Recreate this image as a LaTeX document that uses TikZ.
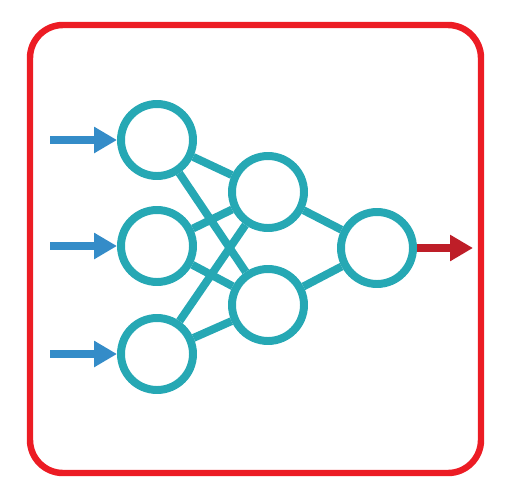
\documentclass[tikz,border=0pt]{standalone}
\usepackage{tikz}
\usetikzlibrary{arrows.meta}

\definecolor{teal}{RGB}{38,168,180}
\definecolor{inblue}{RGB}{52,140,200}
\definecolor{outred}{RGB}{190,30,40}
\definecolor{framered}{RGB}{236,28,36}

\begin{document}
\begin{tikzpicture}[x=0.03cm,y=-0.03cm,
                    neuron/.style={circle,draw=teal,line width=6.8pt,minimum size=2.16cm,inner sep=0pt},
                    link/.style={draw=teal,line width=6.8pt},
                    signal/.style={line width=6.8pt,-{Triangle[length=0.69cm,width=0.75cm]}}]
  \useasboundingbox (0,0) rectangle (507,499);
  \draw[framered,line width=5.5pt,rounded corners=0.99cm] (30,25) rectangle (481,473);

  \node[neuron] (in1) at (157,140) {};
  \node[neuron] (in2) at (157,246) {};
  \node[neuron] (in3) at (157,354) {};
  \node[neuron] (h1)  at (268,192) {};
  \node[neuron] (h2)  at (268,305) {};
  \node[neuron] (out) at (377,248) {};

  \coordinate (x1) at (50,140);
  \coordinate (x2) at (50,246);
  \coordinate (x3) at (50,354);
  \coordinate (y)  at (473,248);

  \path[link] (in1) -- (h1)  (in1) -- (h2)
              (in2) -- (h1)  (in2) -- (h2)
              (in3) -- (h1)  (in3) -- (h2)
              (h1) -- (out)  (h2) -- (out);

  \draw[signal,inblue] (x1) -- (in1);
  \draw[signal,inblue] (x2) -- (in2);
  \draw[signal,inblue] (x3) -- (in3);
  \draw[signal,outred] (out) -- (y);
\end{tikzpicture}
\end{document}
